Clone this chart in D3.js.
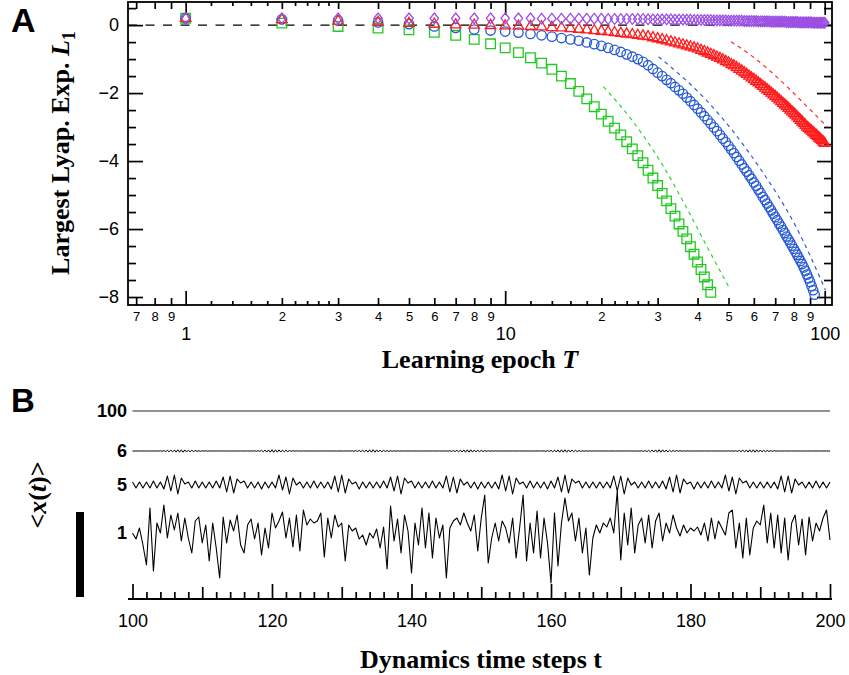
<!DOCTYPE html>
<html><head><meta charset="utf-8">
<script src="https://d3js.org/d3.v7.min.js"></script>
<style>
body{margin:0;background:#fff;}
svg{display:block;}
</style></head>
<body>
<svg id="chart" width="849" height="675" xmlns="http://www.w3.org/2000/svg"></svg>
<script>
// ================= Panel A data (L1 vs learning epoch T = 1,2,3,...) =================
const greenL = [0.2,0.06,-0.04,-0.09,-0.14,-0.21,-0.3,-0.42,-0.55,-0.67,
-0.81,-0.96,-1.12,-1.3,-1.5,-1.72,-1.95,-2.17,-2.4,-2.62,
-2.83,-3.03,-3.23,-3.43,-3.64,-3.84,-4.05,-4.27,-4.5,-4.72,
-4.95,-5.17,-5.4,-5.62,-5.85,-6.07,-6.29,-6.52,-6.74,-6.97,
-7.19,-7.41,-7.64,-7.86];
const blueL = [0.2,0.17,0.13,0.08,0.03,-0.04,-0.08,-0.13,-0.16,-0.19,
-0.22,-0.26,-0.3,-0.34,-0.38,-0.42,-0.46,-0.51,-0.56,-0.61,
-0.67,-0.73,-0.79,-0.86,-0.93,-1.0,-1.08,-1.18,-1.29,-1.4,
-1.5,-1.61,-1.71,-1.82,-1.92,-2.02,-2.13,-2.24,-2.35,-2.46,
-2.57,-2.68,-2.79,-2.9,-3.01,-3.12,-3.23,-3.34,-3.44,-3.55,
-3.66,-3.77,-3.88,-3.99,-4.1,-4.21,-4.31,-4.42,-4.52,-4.63,
-4.73,-4.84,-4.94,-5.05,-5.15,-5.25,-5.35,-5.45,-5.55,-5.65,
-5.74,-5.84,-5.93,-6.03,-6.12,-6.22,-6.31,-6.4,-6.49,-6.58,
-6.67,-6.76,-6.85,-6.94,-7.03,-7.13,-7.23,-7.34,-7.45,-7.56,
-7.68,-7.8,-7.93];
const redL = [0.2,0.16,0.12,0.08,0.05,0.03,0.01,0,-0.01,-0.02,
-0.03,-0.04,-0.05,-0.07,-0.08,-0.1,-0.12,-0.14,-0.16,-0.18,
-0.2,-0.22,-0.24,-0.26,-0.28,-0.3,-0.32,-0.34,-0.37,-0.4,
-0.43,-0.46,-0.49,-0.52,-0.55,-0.58,-0.61,-0.64,-0.67,-0.7,
-0.74,-0.78,-0.82,-0.86,-0.9,-0.94,-0.98,-1.02,-1.07,-1.11,
-1.16,-1.2,-1.25,-1.3,-1.35,-1.4,-1.45,-1.5,-1.55,-1.6,
-1.65,-1.7,-1.75,-1.8,-1.85,-1.9,-1.95,-2.0,-2.05,-2.1,
-2.15,-2.2,-2.25,-2.3,-2.35,-2.4,-2.45,-2.5,-2.55,-2.6,
-2.65,-2.7,-2.75,-2.8,-2.85,-2.9,-2.95,-3.0,-3.04,-3.08,
-3.12,-3.16,-3.2,-3.24,-3.28,-3.32,-3.36,-3.4,-3.44,-3.48];
const purpleL = [0.2,0.2,0.2,0.2,0.2,0.2,0.2,0.2,0.2,0.2,
0.2,0.2,0.19,0.19,0.19,0.19,0.19,0.19,0.19,0.19,
0.18,0.18,0.18,0.18,0.18,0.18,0.18,0.17,0.17,0.17,
0.17,0.17,0.17,0.16,0.16,0.16,0.16,0.16,0.15,0.15,
0.15,0.15,0.15,0.15,0.14,0.14,0.14,0.14,0.14,0.13,
0.13,0.13,0.13,0.13,0.13,0.12,0.12,0.12,0.12,0.12,
0.12,0.11,0.11,0.11,0.11,0.11,0.11,0.1,0.1,0.1,
0.1,0.1,0.1,0.1,0.1,0.09,0.09,0.09,0.09,0.09,
0.09,0.09,0.08,0.08,0.08,0.08,0.08,0.08,0.08,0.08,
0.08,0.07,0.07,0.07,0.07,0.07,0.07,0.07,0.07,0.07];
// asymptotic (dashed) guides: [T, L]
const greenFit = [[20.3,-1.81],[24.9,-2.79],[27.5,-3.35],[31,-4.1],[36.6,-5.3],[43,-6.55],[50.1,-7.7]];
const blueFit = [[30.2,-0.93],[43.5,-2.3],[62.3,-4.17],[81.5,-5.95],[100.6,-7.8]];
const redFit = [[50.9,-0.49],[60,-0.95],[70.3,-1.5],[85.4,-2.27],[102,-3.0]];
const xMajorTicks = [1,10,100];
const xMinorTicks = [0.7,0.8,0.9,2,3,4,5,6,7,8,9,20,30,40,50,60,70,80,90];
const xSubTicks = [1.2,1.4,1.6,1.8,2.2,2.4,2.6,2.8,12,14,16,18,22,24,26,28];
const yMajorTicks = [-8,-6,-4,-2,0];
const yMinorTicks = [-7.5,-7,-6.5,-5.5,-5,-4.5,-3.5,-3,-2.5,-1.5,-1,-0.5,0.5];

// ================= Panel B data =================
const traceLabels = ["100","6","5","1"];
const traceOffsets = [189,149,115,67];
const trace100 = [0,0]; // t = 100 and 200 (constant)
// T = 6 trace, sampled every 0.25 step
const trace6 = [.08,-.08,.08,-.08,.08,-.08,.08,-.08,.08,-.08,.08,-.08,.08,-.08,.08,-.08,
.2,-.3,.4,-.5,.6,-.7,.8,-.9,1,-1.1,1.2,-1.2,1.2,-1.2,1.1,-1,.9,-.8,.7,-.6,.5,-.4,.3,-.3,.2,
-.08,.08,-.08,.08,-.08,.08,-.08,.08,-.08,.08,-.08,.08,-.08,.08,-.08,.08,-.08,.08,-.08,.08,-.08,.08,-.08,.08,-.08,.08,-.08,.08,-.08,
.2,-.3,.4,-.5,.7,-.8,.9,-1,1.1,-1.2,1.2,-1.3,1.2,-1.2,1.1,-1,.9,-.8,.7,-.6,.5,-.4,.3,-.2,.2,
-.08,.08,-.08,.08,-.08,.08,-.08,.08,-.08,.08,-.08,.08,-.08,.08,-.08,.08,-.08,.08,-.08,.08,-.08,.08,-.08,.08,-.08,.08,-.08,.08,-.08,.08,-.08,
.2,-.3,.4,-.5,.6,-.7,.8,-.9,1,-1.1,1.2,-1.2,1.3,-1.2,1.1,-1,.9,-.8,.7,-.6,.5,-.4,.3,-.3,.2,
-.08,.08,-.08,.08,-.08,.08,-.08,.08,-.08,.08,-.08,.08,-.08,.08,-.08,.08,-.08,.08,-.08,.08,-.08,.08,-.08,.08,-.08,.08,-.08,.08,-.08,.08,
-.2,.3,-.4,.5,-.6,.7,-.8,.9,-1,1.1,-1.2,1.2,-1.2,1.2,-1.1,1,-.9,.8,-.7,.6,-.5,.4,-.3,.3,-.2,
.08,-.08,.08,-.08,.08,-.08,.08,-.08,.08,-.08,.08,-.08,.08,-.08,.08,-.08,.08,-.08,.08,-.08,.08,-.08,.08,-.08,.08,-.08,.08,-.08,.08,-.08,
.2,-.3,.4,-.5,.7,-.8,.9,-1,1.1,-1.2,1.2,-1.2,1.2,-1.2,1.1,-1,.9,-.8,.7,-.6,.5,-.4,.3,-.3,.2,
-.08,.08,-.08,.08,-.08,.08,-.08,.08,-.08,.08,-.08,.08,-.08,.08,-.08,.08,-.08,.08,-.08,.08,-.08,.08,-.08,.08,-.08,.08,-.08,.08,-.08,.08,
-.2,.3,-.4,.5,-.6,.7,-.8,.9,-1,1.1,-1.2,1.3,-1.2,1.2,-1.1,1,-.9,.8,-.7,.6,-.5,.4,-.3,.3,-.2,
.08,-.08,.08,-.08,.08,-.08,.08,-.08,.08,-.08,.08,-.08,.08,-.08,.08,-.08,.08,-.08,.08,-.08,.08,-.08,.08,-.08,.08,-.08,.08,-.08,.08,
-.2,.3,-.4,.5,-.7,.8,-.9,1,-1.1,1.2,-1.2,1.2,-1.2,1.2,-1.1,1,-.9,.8,-.7,.6,-.5,.4,-.3,.3,-.2,
.08,-.08,.08,-.08,.08,-.08,.08,-.08,.08,-.08,.08,-.08,.08,-.08,.08,-.08,.08,-.08,.08,-.08,.08,-.08,.08,-.08,.08,-.08,.08,-.08,.08,-.08,.08];
// T = 5 trace, sampled every 0.5 step
const trace5 = [3,-3,3,-3,3,-3,4,-3,3,-4,9,-6,10,-9,7,1,
3,-3,4,-3,3,-3,3,-3,4,-3,8,-7,9,-8,6,2,
4,-3,3,-3,3,-4,3,-3,3,-3,10,-5,8,-9,7,0,
3,-3,3,-3,4,-3,3,-3,3,-4,9,-7,10,-8,6,1,
3,-4,3,-3,3,-3,3,-3,4,-3,8,-6,9,-9,7,2,
4,-3,3,-3,3,-3,4,-3,3,-3,9,-7,8,-8,6,0,
3,-3,3,-4,3,-3,3,-3,3,-4,10,-6,9,-9,7,1,
3,-3,4,-3,3,-3,3,-4,4,-3,8,-7,10,-8,6,2,
4,-3,3,-3,3,-3,3,-3,3,-3,9,-6,9,-9,7,0,
3,-3,3,-3,4,-3,3,-3,4,-4,8,-7,10,-8,6,1,
3,-4,3,-3,3,-3,4,-3,3,-3,10,-6,8,-9,7,2,
4,-3,3,-3,3,-3,3,-3,3,-4,9,-7,9,-8,6,0,
3,-3,3,-3,4,-3,3,-3,3];
// T = 1 trace, sampled every 0.5 step
const trace1 = [0,-6,5,-12,-32,25,-38,10,0,28,
-5,18,3,20,-8,15,-5,-20,12,16,
-10,8,-28,10,-15,-45,16,-10,13,2,
18,-12,-20,8,14,-6,10,-22,5,-15,
20,5,12,21,-5,15,-14,18,-18,23,
8,14,10,12,20,-24,15,-5,18,6,
10,-28,8,2,5,-6,-2,-12,0,-5,
4,-15,6,-36,27,-8,14,-20,18,2,
-40,10,-12,25,-15,20,-25,15,-5,8,
-45,5,12,15,8,20,10,2,18,-18,
15,38,-30,-5,10,-8,12,5,-10,15,
-25,5,38,-28,10,-20,22,-25,15,-10,
-50,20,-33,10,35,12,20,-8,15,-20,
5,-42,-5,8,0,10,6,15,0,42,
-27,20,-12,25,-20,8,15,-10,18,-15,
12,20,-8,10,0,18,5,-3,8,0,
5,2,6,-2,10,-8,15,-6,12,5,
-2,20,23,-15,10,-25,15,-22,5,12,
8,28,-10,20,-15,18,-20,15,-27,10,
18,-12,14,-22,16,-8,10,2,15,23,
-7];
const scaleBar = [3, 88];
const xBMajorTicks = [100,120,140,160,180,200];
const xBMidTicks = [110,130,150,170,190];

// ================= Drawing =================
const svg = d3.select("#chart");
const SANS = '"Liberation Sans", Arial, Helvetica, sans-serif';
const SERIF = '"Liberation Serif", "Times New Roman", Times, serif';

// ---------- Panel A ----------
const xA = d3.scaleLog().domain([0.66, 105.4]).range([128, 832]);
const yA = d3.scaleLinear().domain([-8.235, 0.68]).range([305, 2]);
const gA = svg.append("g");

function styleAxis(g, fs) {
  g.select(".domain").remove();
  g.selectAll(".tick line").attr("stroke", "#000").attr("stroke-width", 1.7);
  g.selectAll(".tick text").attr("fill", "#000").style("font-family", SANS).style("font-size", fs + "px");
}
function addAxis(parent, axis, tx, ty, fs) {
  const g = parent.append("g").attr("transform", `translate(${tx},${ty})`).call(axis);
  styleAxis(g, fs || 10);
  return g;
}
// bottom
addAxis(gA, d3.axisBottom(xA).tickValues(xMajorTicks).tickSize(-14).tickSizeOuter(0).tickPadding(22).tickFormat(d3.format("d")), 0, 305, 18);
addAxis(gA, d3.axisBottom(xA).tickValues(xMinorTicks).tickSize(-7).tickSizeOuter(0).tickPadding(7).tickFormat(d => String(Math.round(d / Math.pow(10, Math.floor(Math.log10(d) + 1e-9))))), 0, 305, 13);
addAxis(gA, d3.axisBottom(xA).tickValues(xSubTicks).tickSize(-4).tickSizeOuter(0).tickFormat(""), 0, 305);
// top
addAxis(gA, d3.axisTop(xA).tickValues(xMajorTicks).tickSize(-13).tickSizeOuter(0).tickFormat(""), 0, 2);
addAxis(gA, d3.axisTop(xA).tickValues(xMinorTicks).tickSize(-7).tickSizeOuter(0).tickFormat(""), 0, 2);
addAxis(gA, d3.axisTop(xA).tickValues(xSubTicks).tickSize(-4).tickSizeOuter(0).tickFormat(""), 0, 2);
// left
addAxis(gA, d3.axisLeft(yA).tickValues(yMajorTicks).tickSize(-15).tickSizeOuter(0).tickPadding(9).tickFormat(d3.format("d")), 128, 0, 18);
addAxis(gA, d3.axisLeft(yA).tickValues(yMinorTicks).tickSize(-8).tickSizeOuter(0).tickFormat(""), 128, 0);
// right
addAxis(gA, d3.axisRight(yA).tickValues(yMajorTicks).tickSize(-15).tickSizeOuter(0).tickFormat(""), 832, 0);
addAxis(gA, d3.axisRight(yA).tickValues(yMinorTicks).tickSize(-8).tickSizeOuter(0).tickFormat(""), 832, 0);
// frame
gA.append("rect").attr("x", 128).attr("y", 2).attr("width", 704).attr("height", 303)
  .attr("fill", "none").attr("stroke", "#000").attr("stroke-width", 1.8);

// zero line
gA.append("line").attr("x1", xA(0.66)).attr("x2", xA(105.4)).attr("y1", yA(0)).attr("y2", yA(0))
  .attr("stroke", "#000").attr("stroke-width", 1.1).attr("stroke-dasharray", "9,8.5");

// dashed guides
const fitLine = d3.line().x(d => xA(d[0])).y(d => yA(d[1])).curve(d3.curveMonotoneX);
[[greenFit, "#2fd42f"], [blueFit, "#2f5fd0"], [redFit, "#ff2a2a"]].forEach(([pts, c]) => {
  gA.append("path").attr("d", fitLine(pts)).attr("fill", "none").attr("stroke", c)
    .attr("stroke-width", 1.2).attr("stroke-dasharray", "4,4");
});

// markers
const diamondType = { draw(ctx) { ctx.moveTo(0, -5.3); ctx.lineTo(4.2, 0); ctx.lineTo(0, 5.3); ctx.lineTo(-4.2, 0); ctx.closePath(); } };
const seriesA = [
  { vals: greenL, color: "#22c922", sym: d3.symbol(d3.symbolSquare, 92) },
  { vals: blueL, color: "#2458d6", sym: d3.symbol(d3.symbolCircle, 70) },
  { vals: redL, color: "#ff1c1c", sym: d3.symbol(d3.symbolTriangle, 48) },
  { vals: purpleL, color: "#9b4fe3", sym: d3.symbol(diamondType) }
];
seriesA.forEach(s => {
  gA.append("g").selectAll("path").data(s.vals).join("path")
    .attr("transform", (d, i) => `translate(${xA(i + 1)},${yA(d)})`)
    .attr("d", s.sym()).attr("fill", "none").attr("stroke", s.color).attr("stroke-width", 1.3);
});

// titles A
svg.append("text").attr("x", 11).attr("y", 32).text("A")
  .style("font-family", SANS).style("font-weight", "bold").style("font-size", "34px");
const ylA = svg.append("text").attr("transform", "translate(69,153) rotate(-90)").attr("text-anchor", "middle")
  .style("font-family", SERIF).style("font-weight", "bold").style("font-size", "26px");
ylA.append("tspan").text("Largest Lyap. Exp. ");
ylA.append("tspan").style("font-style", "italic").text("L");
ylA.append("tspan").attr("dy", 6).style("font-size", "18px").text("1");
const xlA = svg.append("text").attr("x", 480).attr("y", 368).attr("text-anchor", "middle")
  .style("font-family", SERIF).style("font-weight", "bold").style("font-size", "26px");
xlA.append("tspan").text("Learning epoch ");
xlA.append("tspan").style("font-style", "italic").text("T");

// ---------- Panel B ----------
const xB = d3.scaleLinear().domain([100, 200]).range([132.5, 830]);
const yB = d3.scaleLinear().domain([0, 200]).range([600, 400]);
const gB = svg.append("g");

// axis
gB.append("line").attr("x1", 128).attr("x2", 832).attr("y1", 599).attr("y2", 599).attr("stroke", "#000").attr("stroke-width", 1.8);
addAxis(gB, d3.axisBottom(xB).tickValues(xBMajorTicks).tickSize(-15).tickSizeOuter(0).tickPadding(15).tickFormat(d3.format("d")), 0, 599, 18);
addAxis(gB, d3.axisBottom(xB).tickValues(xBMidTicks).tickSize(-12).tickSizeOuter(0).tickFormat(""), 0, 599);
addAxis(gB, d3.axisBottom(xB).tickValues(d3.range(102, 200, 2).filter(v => v % 10 !== 0)).tickSize(-7).tickSizeOuter(0).tickFormat(""), 0, 599);

// traces
const traceDefs = [
  { vals: trace100, dt: 100, color: "#6e6e6e", w: 1.7 },
  { vals: trace6, dt: 0.25, color: "#000", w: 1.0 },
  { vals: trace5, dt: 0.5, color: "#000", w: 1.1 },
  { vals: trace1, dt: 0.5, color: "#000", w: 1.1 }
];
traceDefs.forEach((tr, k) => {
  const off = traceOffsets[k];
  const line = d3.line().x((d, i) => xB(100 + i * tr.dt)).y(d => yB(d + off));
  gB.append("path").attr("d", line(tr.vals)).attr("fill", "none")
    .attr("stroke", tr.color).attr("stroke-width", tr.w).attr("stroke-linejoin", "round");
  gB.append("text").attr("x", 127).attr("y", yB(off)).attr("dy", "0.36em").attr("text-anchor", "end")
    .text(traceLabels[k]).style("font-family", SANS).style("font-weight", "bold").style("font-size", "18px");
});

// scale bar
gB.append("rect").attr("x", 76).attr("width", 8).attr("y", yB(scaleBar[1])).attr("height", yB(scaleBar[0]) - yB(scaleBar[1])).attr("fill", "#000");

// titles B
svg.append("text").attr("x", 11).attr("y", 412).text("B")
  .style("font-family", SANS).style("font-weight", "bold").style("font-size", "33px");
const ylB = svg.append("text").attr("transform", "translate(46,495) rotate(-90)").attr("text-anchor", "middle")
  .style("font-family", SERIF).style("font-weight", "bold").style("font-size", "26px");
ylB.append("tspan").text("<");
ylB.append("tspan").style("font-style", "italic").text("x");
ylB.append("tspan").text("(");
ylB.append("tspan").style("font-style", "italic").text("t");
ylB.append("tspan").text(")>");
svg.append("text").attr("x", 481).attr("y", 668).attr("text-anchor", "middle").text("Dynamics time steps t")
  .style("font-family", SERIF).style("font-weight", "bold").style("font-size", "26px");
</script>
</body></html>
